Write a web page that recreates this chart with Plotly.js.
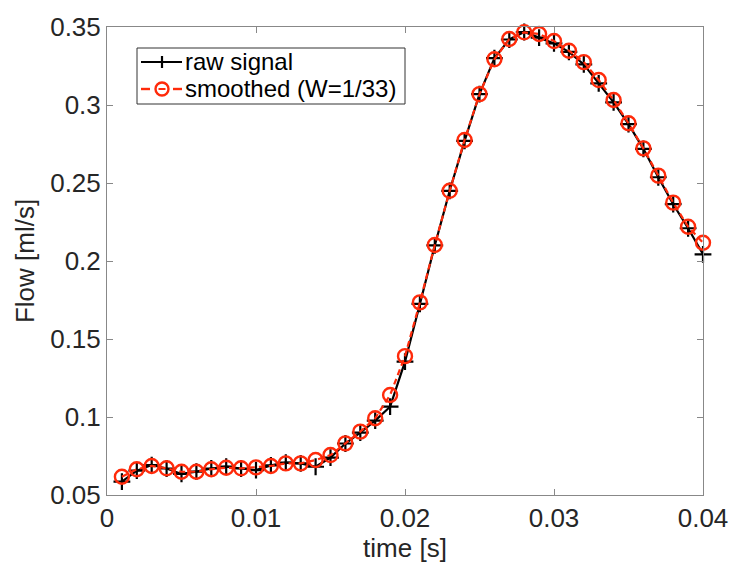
<!DOCTYPE html>
<html>
<head>
<meta charset="utf-8">
<script src="https://cdn.plot.ly/plotly-3.0.1.min.js"></script>
<style>html,body{margin:0;padding:0;background:#fff;}#plot{width:732px;height:563px;}</style>
</head>
<body>
<div id="plot"></div>
<script>
// time samples [s]
const time = [0.001,0.002,0.003,0.004,0.005,0.006,0.007,0.008,0.009,0.010,
              0.011,0.012,0.013,0.014,0.015,0.016,0.017,0.018,0.019,0.020,
              0.021,0.022,0.023,0.024,0.025,0.026,0.027,0.028,0.029,0.030,
              0.031,0.032,0.033,0.034,0.035,0.036,0.037,0.038,0.039,0.040];
// raw signal [ml/s]
const rawFlow = [0.0586,0.0656,0.0692,0.0670,0.0635,0.0650,0.0670,0.0682,0.0670,0.0660,
                 0.0690,0.0707,0.0703,0.0681,0.0740,0.0830,0.0900,0.0977,0.1066,0.1355,
                 0.1725,0.2100,0.2450,0.2770,0.3070,0.3300,0.3420,0.3468,0.3432,0.3395,
                 0.3341,0.3260,0.3139,0.3017,0.2877,0.2719,0.2537,0.2364,0.2210,0.2043];
// smoothed signal (W=1/33) [ml/s]
const smoothFlow = [0.0617,0.0665,0.0686,0.0671,0.0649,0.0649,0.0665,0.0675,0.0671,0.0677,
                    0.0686,0.0703,0.0703,0.0724,0.0756,0.0831,0.0906,0.0992,0.1141,0.1390,
                    0.1735,0.2103,0.2450,0.2776,0.3070,0.3293,0.3423,0.3466,0.3455,0.3410,
                    0.3348,0.3275,0.3160,0.3032,0.2883,0.2722,0.2547,0.2374,0.2220,0.2117];
const seriesNames = ['raw signal', 'smoothed (W=1/33)'];
const xTicks = [0, 0.01, 0.02, 0.03, 0.04];
const xTickText = ['0', '0.01', '0.02', '0.03', '0.04'];
const yTicks = [0.05, 0.1, 0.15, 0.2, 0.25, 0.3, 0.35];
const yTickText = ['0.05', '0.1', '0.15', '0.2', '0.25', '0.3', '0.35'];

const red = '#ff2a0a';
const font = 'Liberation Sans, Arial, sans-serif';
const traces = [
  {x: time, y: rawFlow, name: seriesNames[0], type: 'scatter', mode: 'lines+markers', cliponaxis: false,
   line: {color: '#000000', width: 2.2},
   marker: {symbol: 'cross-thin-open', size: 12, color: '#000000', line: {color: '#000000', width: 2.2}}},
  {x: time, y: smoothFlow, name: seriesNames[1], type: 'scatter', mode: 'lines+markers', cliponaxis: false,
   line: {color: red, width: 2.2, dash: '6px,4px'},
   marker: {symbol: 'circle-open', size: 14, color: red, line: {color: red, width: 2.4}}}
];

// Legend drawn as shapes + annotations (paper coords of the plot area)
const W = 596, H = 468;          // plot-area size in px
const px = v => v / W, py = v => 1 - v / H;   // px offsets from plot-area top-left
const boxL = 30, boxR = 298, boxT = 21, boxB = 77;
const row1 = 35, row2 = 62;
const symL = 34, symR = 75, symC = 55;
const shapes = [
  {type: 'rect', xref: 'paper', yref: 'paper', x0: px(boxL), x1: px(boxR), y0: py(boxB), y1: py(boxT),
   line: {color: '#333333', width: 1}, fillcolor: '#ffffff', layer: 'above'},
  // raw signal symbol
  {type: 'line', xref: 'paper', yref: 'paper', x0: px(symL), x1: px(symR), y0: py(row1), y1: py(row1),
   line: {color: '#000000', width: 2.2}, layer: 'above'},
  {type: 'line', xref: 'paper', yref: 'paper', x0: px(symC), x1: px(symC), y0: py(row1 - 6), y1: py(row1 + 6),
   line: {color: '#000000', width: 2.2}, layer: 'above'},
  // smoothed symbol
  {type: 'line', xref: 'paper', yref: 'paper', x0: px(symL), x1: px(symL + 9), y0: py(row2), y1: py(row2),
   line: {color: red, width: 2.4}, layer: 'above'},
  {type: 'line', xref: 'paper', yref: 'paper', x0: px(symR - 9), x1: px(symR), y0: py(row2), y1: py(row2),
   line: {color: red, width: 2.4}, layer: 'above'},
  {type: 'circle', xref: 'paper', yref: 'paper', x0: px(symC - 6.5), x1: px(symC + 6.5), y0: py(row2 + 6.5), y1: py(row2 - 6.5),
   line: {color: red, width: 2.4}, fillcolor: '#ffffff', layer: 'above'},
  {type: 'line', xref: 'paper', yref: 'paper', x0: px(symC - 3.5), x1: px(symC + 3.5), y0: py(row2), y1: py(row2),
   line: {color: red, width: 2}, layer: 'above'}
];
const annotations = [
  {text: seriesNames[0], xref: 'paper', yref: 'paper', x: px(symR + 2), y: py(row1), xanchor: 'left', yanchor: 'middle',
   showarrow: false, font: {family: font, size: 24, color: '#000000'}, borderpad: 0},
  {text: seriesNames[1], xref: 'paper', yref: 'paper', x: px(symR + 2), y: py(row2), xanchor: 'left', yanchor: 'middle',
   showarrow: false, font: {family: font, size: 24, color: '#000000'}, borderpad: 0}
];

const axisCommon = {
  showline: true, linecolor: '#888888', linewidth: 1, mirror: 'ticks',
  ticks: 'inside', ticklen: 6, tickcolor: '#888888', tickwidth: 1,
  showgrid: false, zeroline: false,
  tickfont: {family: font, size: 26, color: '#262626'}
};
const layout = {
  width: 732, height: 563,
  margin: {l: 107, r: 29, t: 27, b: 68},
  paper_bgcolor: '#ffffff', plot_bgcolor: '#ffffff',
  showlegend: false,
  shapes: shapes,
  annotations: annotations,
  xaxis: Object.assign({}, axisCommon, {
    range: [0, 0.04], tickmode: 'array', tickvals: xTicks, ticktext: xTickText,
    title: {text: 'time [s]', font: {family: font, size: 26, color: '#262626'}, standoff: 2}
  }),
  yaxis: Object.assign({}, axisCommon, {
    range: [0.05, 0.35], tickmode: 'array', tickvals: yTicks, ticktext: yTickText,
    title: {text: 'Flow [ml/s]', font: {family: font, size: 26, color: '#262626'}, standoff: 8}
  })
};
Plotly.newPlot('plot', traces, layout, {displayModeBar: false, staticPlot: true});
</script>
</body>
</html>
